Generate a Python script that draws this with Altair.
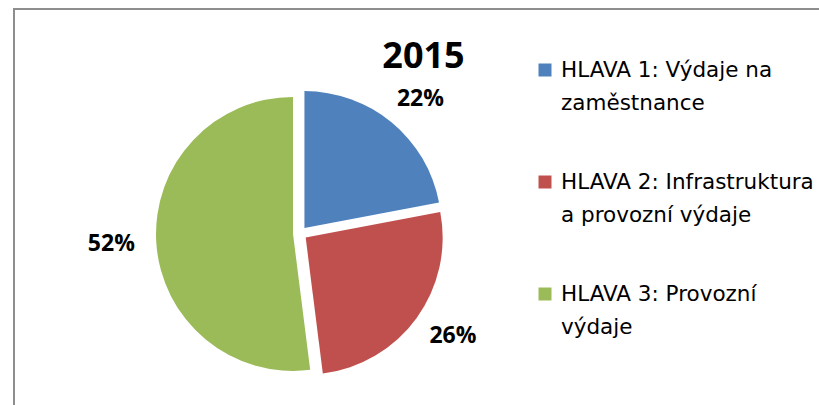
import altair as alt
import pandas as pd

# ---- data ----
categories = [
    "HLAVA 1: Výdaje na zaměstnance",
    "HLAVA 2: Infrastruktura a provozní výdaje",
    "HLAVA 3: Provozní výdaje",
]
legend_lines = [
    "HLAVA 1: Výdaje na\nzaměstnance",
    "HLAVA 2: Infrastruktura\na provozní výdaje",
    "HLAVA 3: Provozní\nvýdaje",
]
shares = [22, 26, 52]
colors = ["#4F81BD", "#C0504D", "#9BBB59"]
title_text = ["2015"]

df = pd.DataFrame({"cat": categories, "legend": legend_lines,
                   "share": shares, "idx": list(range(len(categories)))})
df_title = pd.DataFrame({"t": title_text})

# ---- layout constants (view coordinates) ----
W, H = 805, 396
CX, CY = 286, 224.5
R = 137
EXPLODE = 7
LRX, LRY = 182, 167
LEG_FONT = "DejaVu Sans"
LBL_FONT = "Open Sans"
TITLE_FONT = "Open Sans"

base = (
    alt.Chart(df)
    .transform_joinaggregate(total="sum(share)")
    .transform_window(cum="sum(share)", sort=[alt.SortField("idx")], frame=[None, 0])
    .transform_calculate(
        mid="(datum.cum - datum.share/2)/datum.total*2*PI",
        px=f"{CX} + {EXPLODE}*sin(datum.mid)",
        py=f"{CY} - {EXPLODE}*cos(datum.mid)",
        pct="datum.share/datum.total",
    )
    .transform_calculate(
        lx=f"datum.px + {LRX}*sin(datum.mid)",
        ly=f"datum.py - {LRY}*cos(datum.mid)",
    )
)

color = alt.Color("cat:N", scale=alt.Scale(domain=categories, range=colors), legend=None)
theta = alt.Theta("share:Q", stack=True)
order = alt.Order("idx:Q")

arcs = base.mark_arc(outerRadius=R).encode(
    theta=theta, color=color, order=order,
    x=alt.X("px:Q", scale=None), y=alt.Y("py:Q", scale=None)
)

labels = base.mark_text(
    font=LBL_FONT, fontWeight="bold", fontSize=23, color="#000000",
    align="center", baseline="middle",
).encode(x=alt.X("lx:Q", scale=None), y=alt.Y("ly:Q", scale=None),
         text=alt.Text("pct:Q", format=".0%"))

title = alt.Chart(df_title).mark_text(
    font=TITLE_FONT, fontWeight="bold", fontSize=36, color="#000000",
    align="center", baseline="middle",
).encode(text="t:N", x=alt.value(409.5), y=alt.value(48))

leg = alt.Chart(df).transform_calculate(legy="61 + datum.idx*112")
leg_sq = leg.mark_square(size=169, opacity=1).encode(
    x=alt.value(531), y=alt.Y("legy:Q", scale=None), color=color
)
leg_txt = leg.mark_text(
    align="left", baseline="alphabetic", lineBreak="\n", lineHeight=33,
    font=LEG_FONT, fontSize=21.5, color="#000000", dy=7,
).encode(x=alt.value(547), y=alt.Y("legy:Q", scale=None), text="legend:N")

border_left = alt.Chart(df_title).mark_rule(color="#8E8E8E", strokeWidth=2).encode(
    x=alt.value(0), y=alt.value(0), y2=alt.value(H + 5)
)
border_top = alt.Chart(df_title).mark_rule(color="#8E8E8E", strokeWidth=2).encode(
    x=alt.value(-1), x2=alt.value(W + 5), y=alt.value(0)
)

chart = (
    alt.layer(arcs, labels, title, leg_sq, leg_txt, border_left, border_top)
    .properties(width=W, height=H, autosize="none",
                padding={"left": 14, "top": 9, "right": 0, "bottom": 0},
                background="white")
    .configure_view(stroke=None)
)

chart.save("out.html", embed_options={"renderer": "svg", "actions": False})
